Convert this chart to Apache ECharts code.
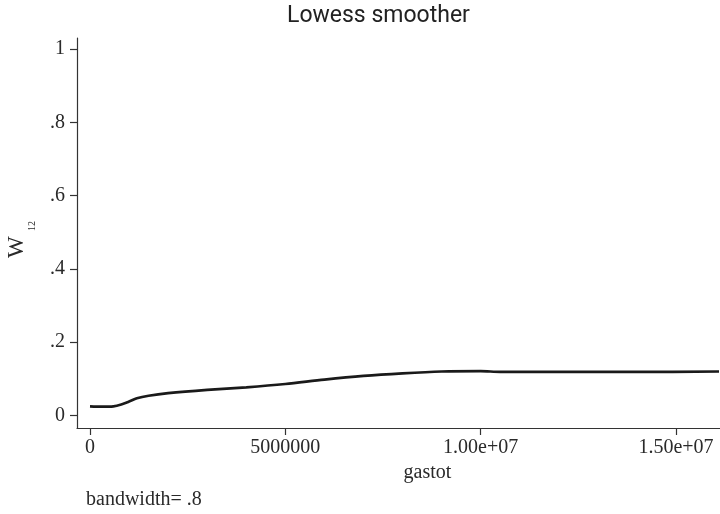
<!DOCTYPE html>
<html>
<head>
<meta charset="utf-8">
<script src="https://cdn.jsdelivr.net/npm/echarts@6/dist/echarts.min.js"></script>
<style>
html,body{margin:0;padding:0;background:#fff;}
#chart{width:720px;height:514px;}
</style>
</head>
<body>
<div id="chart"></div>
<script>
// Data (gastot vs W12 lowess fit)
var gastot = [0, 300000, 600000, 800000, 1000000, 1200000, 1500000, 2000000, 3000000, 4000000, 5000000, 6000000, 7000000, 8000000, 9000000, 10000000, 10500000, 12000000, 14000000, 16100000];
var w12 = [0.025, 0.024, 0.025, 0.030, 0.038, 0.047, 0.054, 0.061, 0.070, 0.077, 0.086, 0.098, 0.108, 0.115, 0.120, 0.121, 0.119, 0.119, 0.119, 0.120];
var xTicks = [0, 5000000, 10000000, 15000000];
var xTickLabels = ['0', '5000000', '1.00e+07', '1.50e+07'];
var yTicks = [0, 0.2, 0.4, 0.6, 0.8, 1];
var yTickLabels = ['0', '.2', '.4', '.6', '.8', '1'];

var serif = '"Liberation Serif", "DejaVu Serif", serif';
var axisColor = '#333';
var textColor = '#2a2a2a';

var points = gastot.map(function (x, i) { return [x, w12[i]]; });

var chart = echarts.init(document.getElementById('chart'), null, {renderer: 'canvas'});
chart.setOption({
  backgroundColor: '#fff',
  animation: false,
  title: {
    text: 'Lowess smoother',
    left: 287,
    top: 5,
    padding: 0,
    textStyle: {
      fontFamily: '"Roboto", "Liberation Sans", sans-serif',
      fontSize: 23,
      fontWeight: 'normal',
      color: '#222'
    }
  },
  grid: { left: 77, right: 0, top: 38, bottom: 86, containLabel: false },
  xAxis: {
    type: 'value',
    min: -332700,
    max: 16125000,
    name: 'gastot',
    nameLocation: 'middle',
    nameGap: 33,
    nameTextStyle: { fontFamily: serif, fontSize: 20, color: textColor, padding: [0, 0, 0, 58] },
    axisLine: { show: true, onZero: false, lineStyle: { color: axisColor, width: 1.2 } },
    axisTick: { show: true, length: 7, customValues: xTicks, lineStyle: { color: axisColor, width: 1.2 } },
    axisLabel: {
      customValues: xTicks,
      margin: 10,
      fontFamily: serif, fontSize: 20, color: textColor,
      formatter: function (v) { var i = xTicks.indexOf(v); return i >= 0 ? xTickLabels[i] : ''; }
    },
    splitLine: { show: false }
  },
  yAxis: {
    type: 'value',
    min: -0.0341,
    max: 1.030,
    axisLine: { show: true, onZero: false, lineStyle: { color: axisColor, width: 1.2 } },
    axisTick: { show: true, length: 7, customValues: yTicks, lineStyle: { color: axisColor, width: 1.2 } },
    axisLabel: {
      customValues: yTicks,
      margin: 12,
      fontFamily: serif, fontSize: 20, color: textColor,
      formatter: function (v) {
        for (var i = 0; i < yTicks.length; i++) { if (Math.abs(yTicks[i] - v) < 1e-9) return yTickLabels[i]; }
        return '';
      }
    },
    splitLine: { show: false }
  },
  graphic: [
    {
      type: 'group',
      x: 16.7,
      y: 258,
      rotation: Math.PI / 2,
      children: [
        { type: 'text', x: 0, y: 0, style: { text: 'W', font: '23px ' + serif, fill: textColor, align: 'left', verticalAlign: 'middle' } },
        { type: 'text', x: 27, y: 16, style: { text: '12', font: '10px ' + serif, fill: textColor, align: 'left', verticalAlign: 'middle' } }
      ]
    },
    {
      type: 'text',
      left: 86,
      top: 490,
      style: { text: 'bandwidth= .8', font: '20px ' + serif, fill: textColor }
    }
  ],
  series: [{
    type: 'line',
    data: points,
    showSymbol: false,
    smooth: 0.3,
    lineStyle: { color: '#1a1a1a', width: 2.7 },
    clip: true
  }]
});
</script>
</body>
</html>
